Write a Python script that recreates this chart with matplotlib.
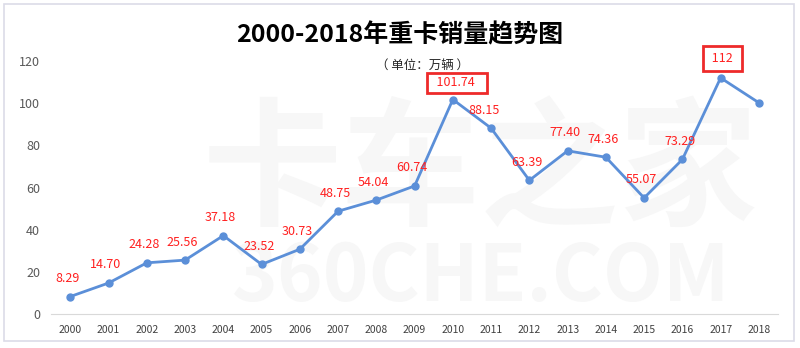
import matplotlib.pyplot as plt
from matplotlib.patches import Rectangle

plt.rcParams['font.family'] = ['Noto Sans CJK SC', 'DejaVu Sans']

# data
years = [str(y) for y in range(2000, 2019)]
sales = [8.29, 14.70, 24.28, 25.56, 37.18, 23.52, 30.73, 48.75, 54.04, 60.74,
         101.74, 88.15, 63.39, 77.40, 74.36, 55.07, 73.29, 112, 100.2]
labels = ['8.29', '14.70', '24.28', '25.56', '37.18', '23.52', '30.73', '48.75',
          '54.04', '60.74', '101.74', '88.15', '63.39', '77.40', '74.36', '55.07',
          '73.29', '112', '']
boxed = ['2010', '2017']

fig = plt.figure(figsize=(8, 3.48), dpi=100)
ax = fig.add_axes([0.064, 0.0977, 0.9085, 0.727])

# outer border
fig.patches.append(Rectangle((4 / 800, 7 / 348), 790 / 800, 337 / 348, transform=fig.transFigure,
                             fill=False, edgecolor='#dcdce8', linewidth=1.2))

# faint watermark, kept behind the line
ax.text(0.60, 0.50, '卡车之家', ha='center', va='center', fontsize=100,
        fontweight='bold', color='#f7f7f7', zorder=0, transform=fig.transFigure)
ax.text(0.60, 0.20, '360CHE.COM', ha='center', va='center', fontsize=56,
        fontweight='bold', color='#f7f7f7', zorder=0, transform=fig.transFigure)

x = list(range(len(years)))
ax.plot(x, sales, color='#5b8fd8', linewidth=2.0, marker='o', markersize=5, zorder=3)

for i, (v, lab) in enumerate(zip(sales, labels)):
    if not lab:
        continue
    if years[i] == '2010':
        ax.annotate('  ' + lab + '   ', (i, v), xytext=(3, 12), textcoords='offset points',
                    ha='center', va='center', fontsize=9, color='#ff2020', zorder=5,
                    bbox=dict(boxstyle='square,pad=0.3', facecolor='white',
                              edgecolor='#ee2a2a', linewidth=2))
    elif years[i] == '2017':
        ax.annotate(' ' + lab + ' ', (i, v), xytext=(1, 14), textcoords='offset points',
                    ha='center', va='center', fontsize=9, color='#ff2020', zorder=5,
                    bbox=dict(boxstyle='square,pad=0.5', facecolor='white',
                              edgecolor='#ee2a2a', linewidth=2))
    else:
        dx = 0 if years[i] != '2011' else -3
        ax.annotate(lab, (i, v), xytext=(dx - 2, 13), textcoords='offset points',
                    ha='center', va='center', fontsize=9, color='#ff2020', zorder=5)

ax.set_xlim(-0.5, len(years) - 0.5)
ax.set_ylim(0, 120)
ax.set_yticks(range(0, 121, 20))
ax.set_xticks(x)
ax.set_xticklabels(years)
ax.tick_params(axis='x', length=0, labelsize=7.5, colors='#404040', pad=8)
ax.tick_params(axis='y', length=0, labelsize=9, colors='#595959', pad=8)
for s in ['top', 'right', 'left']:
    ax.spines[s].set_visible(False)
ax.spines['bottom'].set_color('#d9d9d9')
ax.patch.set_alpha(0)

fig.text(0.5, 0.90, '2000-2018年重卡销量趋势图', ha='center', va='center',
         fontsize=18, fontweight='bold', color='#000000')
fig.text(0.528, 0.813, '（ 单位：万辆 ）', ha='center', va='center', fontsize=9, color='#262626')

fig.savefig('out.png', dpi=100)
